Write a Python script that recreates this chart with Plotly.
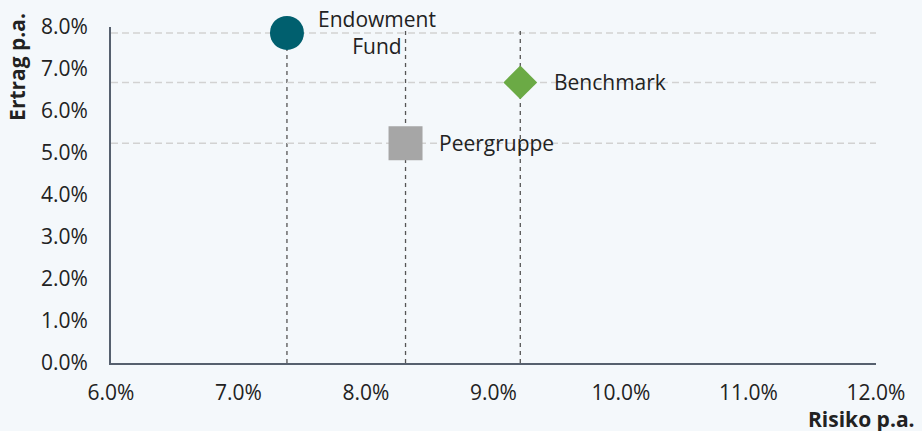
import plotly.graph_objects as go

# data (percent)
names = ["Endowment Fund", "Benchmark", "Peergruppe"]
labels = ["Endowment<br>Fund", "Benchmark", "Peergruppe"]
risk = [7.38, 9.21, 8.31]
ret = [7.86, 6.68, 5.23]

colors = ["#005F6E", "#6BAA45", "#A6A6A6"]
symbols = ["circle", "diamond", "square"]
sizes = [34, 26, 34]

FONT = "Open Sans"
TXT = "#222222"
AXIS = "#56606E"
BG = "#F4F8FB"

fig = go.Figure()

# helper lines through each point
for x, y in zip(risk, ret):
    fig.add_shape(type="line", xref="x", yref="paper", x0=x, x1=x, y0=0, y1=1,
                  line=dict(color="#555555", width=1.3, dash="4px,4px"), layer="below")
    fig.add_shape(type="line", xref="paper", yref="y", x0=0, x1=1, y0=y, y1=y,
                  line=dict(color="#D2D2D2", width=1.5, dash="7px,4px"), layer="below")

for i in range(len(names)):
    fig.add_trace(go.Scatter(
        x=[risk[i]], y=[ret[i]], mode="markers", name=names[i],
        marker=dict(color=colors[i], symbol=symbols[i], size=sizes[i], line=dict(width=0)),
        showlegend=False, cliponaxis=False,
    ))

# point labels
fig.add_annotation(x=risk[0], y=ret[0], text=labels[0], showarrow=False,
                   xanchor="center", yanchor="middle", align="center", xshift=90, yshift=0)
fig.add_annotation(x=risk[1], y=ret[1], text=labels[1], showarrow=False,
                   xanchor="left", yanchor="middle", xshift=32)
fig.add_annotation(x=risk[2], y=ret[2], text=labels[2], showarrow=False,
                   xanchor="left", yanchor="middle", xshift=31)

# axis titles
fig.add_annotation(xref="paper", yref="paper", x=-0.122, y=1.047, text="<b>Ertrag p.a.</b>",
                   textangle=-90, showarrow=False, xanchor="center", yanchor="top")
fig.add_annotation(xref="paper", yref="paper", x=1.054, y=-0.166, text="<b>Risiko p.a.</b>",
                   showarrow=False, xanchor="right", yanchor="middle")

fig.update_xaxes(range=[6, 12], dtick=1, tickformat=".1f", ticksuffix="%",
                 showgrid=False, zeroline=False, showline=True, linecolor=AXIS, linewidth=2,
                 ticks="", ticklabelstandoff=10)
fig.update_yaxes(range=[0, 8], dtick=1, tickformat=".1f", ticksuffix="%",
                 showgrid=False, zeroline=False, showline=True, linecolor=AXIS, linewidth=2,
                 ticks="", ticklabelstandoff=17)

fig.update_layout(
    width=922, height=431,
    margin=dict(l=111, r=46, t=25, b=68),
    paper_bgcolor=BG, plot_bgcolor=BG,
    font=dict(family=FONT, size=21, color=TXT),
)

fig.write_html("out.html", config={"displayModeBar": False},
               post_script="document.body.style.margin='0';")
